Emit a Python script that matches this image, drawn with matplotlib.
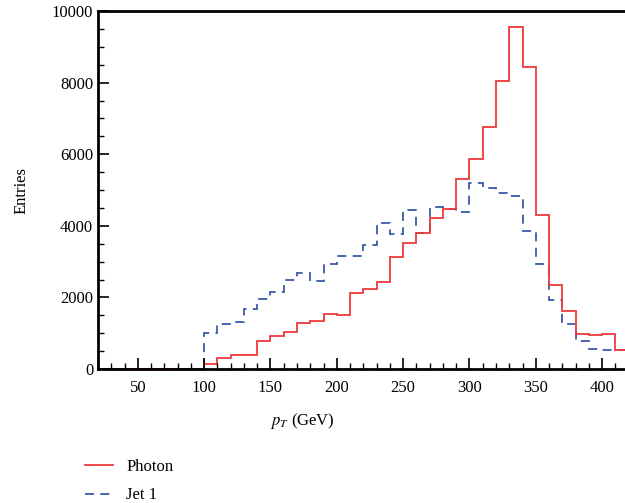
import numpy as np
import matplotlib.pyplot as plt
from matplotlib.ticker import MultipleLocator

plt.rcParams["font.family"] = ["Liberation Serif", "DejaVu Serif"]
plt.rcParams["font.size"] = 12
plt.rcParams["mathtext.fontset"] = "stix"

# bin edges (GeV) and entries per bin
edges = np.arange(20, 430, 10)
photon = [0, 0, 0, 0, 0, 0, 0, 0,
          150, 300, 380, 400, 790, 910, 1020, 1275, 1350, 1536, 1518,
          2132, 2225, 2440, 3119, 3510, 3808, 4208, 4469, 5307, 5856,
          6750, 8054, 9562, 8436, 4302, 2346, 1611, 968, 940, 978, 531]
jet1 = [0, 0, 0, 0, 0, 0, 0, 0,
        996, 1248, 1322, 1667, 1955, 2141, 2477, 2672, 2458, 2933, 3166,
        3147, 3454, 4087, 3762, 4432, 3808, 4516, 4460, 4376, 5205,
        5047, 4907, 4842, 3864, 2933, 1927, 1257, 791, 568, 531, 531]

fig = plt.figure(figsize=(6.25, 5.03), dpi=100)
ax = fig.add_axes([0.1568, 0.2664, 0.849, 0.7117])

ax.stairs(jet1, edges, color="#3a5aa8", lw=1.3, ls=(0, (5, 3.5)), label="Jet 1")
ax.stairs(photon, edges, color="#ee3a3a", lw=1.3, label="Photon")

ax.set_xlim(20, 420)
ax.set_ylim(0, 10000)
ax.xaxis.set_major_locator(MultipleLocator(50))
ax.xaxis.set_minor_locator(MultipleLocator(10))
ax.yaxis.set_major_locator(MultipleLocator(2000))
ax.yaxis.set_minor_locator(MultipleLocator(500))
ax.tick_params(which="both", direction="in", top=False, right=False)
ax.tick_params(which="major", length=8, width=1.2)
ax.tick_params(which="minor", length=4, width=1)
ax.tick_params(axis="x", pad=8)
for s in ax.spines.values():
    s.set_linewidth(2)

ax.set_ylabel("Entries")
ax.yaxis.set_label_coords(-0.13, 0.5)
ax.set_xlabel("$p_T$ (GeV)")
ax.xaxis.set_label_coords(0.386, -0.118)

h, l = ax.get_legend_handles_labels()
fig.legend(h[::-1], l[::-1], loc="upper left", bbox_to_anchor=(0.125, 0.101),
           frameon=False, handlelength=1.7, handletextpad=0.8, labelspacing=0.75,
           borderaxespad=0)

fig.savefig("out.png", dpi=100)
